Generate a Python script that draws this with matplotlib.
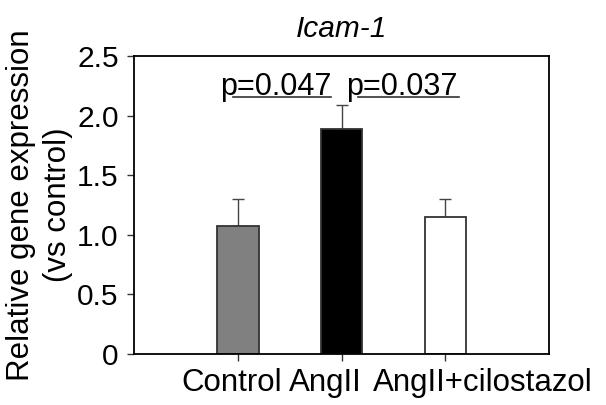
import matplotlib
matplotlib.use("Agg")
import matplotlib.pyplot as plt
import matplotlib.transforms as mtransforms
import numpy as np

plt.rcParams['font.family'] = ['Liberation Sans', 'DejaVu Sans']

categories = ["Control", "AngII", "AngII+cilostazol"]
values = [1.07, 1.89, 1.15]
errors = [0.23, 0.20, 0.15]
colors = ["#808080", "#000000", "#ffffff"]
yticks = [0, 0.5, 1.0, 1.5, 2.0, 2.5]
ytick_labels = ["0", "0.5", "1.0", "1.5", "2.0", "2.5"]
pvalues = ["0.047", "0.037"]

fig = plt.figure(figsize=(6.06, 4.05), dpi=100)
ax = fig.add_axes([0.2211, 0.1259, 0.685, 0.7358])

x = np.arange(len(categories))
ax.bar(x, values, width=0.4, color=colors, edgecolor="#333333", linewidth=1.3, zorder=2)
ax.errorbar(x, values, yerr=[np.zeros(len(errors)), errors], fmt='none',
            ecolor="#444444", elinewidth=1.0, capsize=4.5, capthick=1.0, zorder=1)

ax.set_xlim(-1, 3)
ax.set_ylim(0, 2.5)
ax.set_yticks(yticks)
ax.set_yticklabels(ytick_labels, fontsize=21.5)
ax.set_xticks(x)
ax.set_xticklabels(categories, fontsize=22.5)
ax.tick_params(axis='both', direction='out', length=5, width=1.0, color='#333333')
ax.tick_params(axis='y', pad=6)
ax.tick_params(axis='x', pad=5)
for s in ax.spines.values():
    s.set_linewidth(1.3)
    s.set_color('black')

# shift x tick labels to match reference layout
offsets_px = [-6, -16, 37]
for lab, dx in zip(ax.get_xticklabels(), offsets_px):
    lab.set_transform(lab.get_transform() + mtransforms.ScaledTranslation(dx / 100, 0, fig.dpi_scale_trans))

ax.set_ylabel("Relative gene expression\n(vs control)", fontsize=22.5, linespacing=1.3, labelpad=3)
ax.set_title("Icam-1", fontsize=21.5, style='italic', pad=14)

# p-values with underlines
p_x = [-0.173, 1.048]
for px, pv in zip(p_x, pvalues):
    ax.text(px, 2.17, "p=" + pv, fontsize=22, ha='left', va='baseline')
line_starts = [-0.05, 1.16]
line_ends = [0.90, 2.13]
for xs, xe in zip(line_starts, line_ends):
    ax.plot([xs, xe], [2.156, 2.156], color="#333333", linewidth=1.2, clip_on=False)

fig.savefig("out.png", dpi=100)
